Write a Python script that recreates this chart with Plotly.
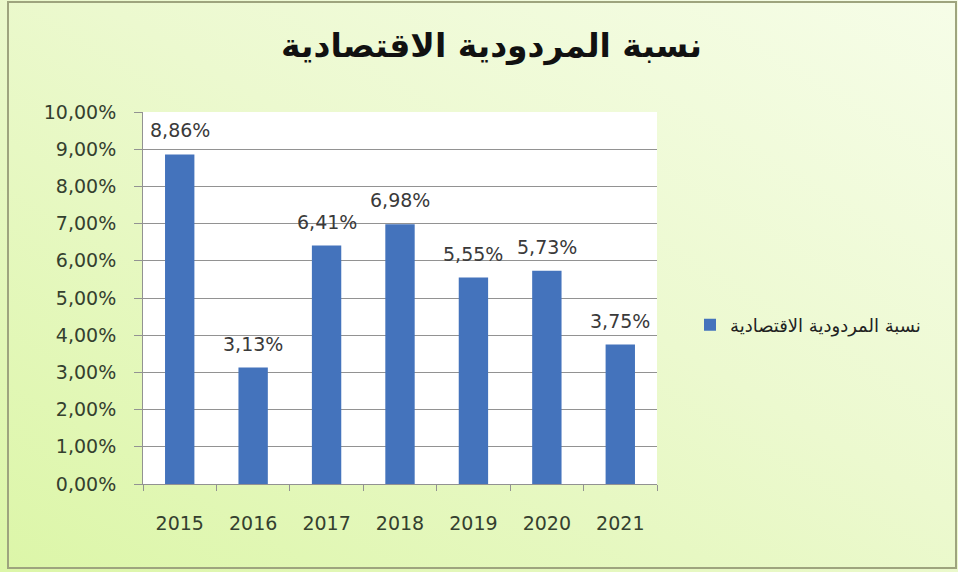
import base64
import plotly.graph_objects as go

years = ["2015", "2016", "2017", "2018", "2019", "2020", "2021"]
values = [0.0886, 0.0313, 0.0641, 0.0698, 0.0555, 0.0573, 0.0375]
series_name = "نسبة المردودية الاقتصادية"
title_text = "نسبة المردودية الاقتصادية"

W, H = 958, 572
L, R, T, B = 143, 657, 112, 484  # plot area in px

def px_x(px):
    return (px - L) / (R - L)

def px_y(py):
    return (B - py) / (B - T)

svg = (
    '<svg xmlns="http://www.w3.org/2000/svg" width="958" height="572">'
    '<defs><linearGradient id="g" x1="1" y1="0" x2="0" y2="1">'
    '<stop offset="0" stop-color="#f6fde8"/>'
    '<stop offset="0.45" stop-color="#ecf9cf"/>'
    '<stop offset="1" stop-color="#dcf6a8"/>'
    '</linearGradient></defs>'
    '<rect width="958" height="572" fill="url(#g)"/></svg>'
)
src = "data:image/svg+xml;base64," + base64.b64encode(svg.encode()).decode()

fig = go.Figure()
fig.add_trace(go.Bar(
    x=years, y=values, name=series_name,
    marker=dict(color="#4473bc", line=dict(width=0)),
    showlegend=True,
))

for i, v in enumerate(values):
    fig.add_annotation(
        x=i, y=v, text=f"{v*100:.2f}%".replace(".", ","),
        showarrow=False, yanchor="bottom", yshift=11,
        font=dict(family="DejaVu Sans", size=19, color="#3a3a3a"),
    )

fig.add_layout_image(
    source=src, xref="paper", yref="paper",
    x=px_x(0), y=px_y(0), sizex=W / (R - L), sizey=H / (B - T),
    xanchor="left", yanchor="top", sizing="stretch", layer="below",
)
# white plot area
fig.add_shape(type="rect", xref="paper", yref="paper", x0=0, x1=1, y0=0, y1=1,
              fillcolor="white", line=dict(width=0), layer="below")
# outer frame
fig.add_shape(type="rect", xref="paper", yref="paper",
              x0=px_x(8), x1=px_x(956), y0=px_y(568), y1=px_y(2),
              fillcolor="rgba(0,0,0,0)", line=dict(color="#9ea47e", width=2),
              layer="above")

fig.update_layout(
    width=W, height=H,
    margin=dict(l=L, r=W - R, t=T, b=H - B, autoexpand=False),
    paper_bgcolor="#ecf9cf",
    plot_bgcolor="white",
    separators=", ",
    bargap=0.6,
    title=dict(text=title_text, x=0.513, xanchor="center", y=1 - 45 / H,
               yanchor="middle", yref="container",
               font=dict(family="DejaVu Sans", size=33, color="#111111", weight="bold")),
    legend=dict(x=px_x(690), y=px_y(325), xanchor="left", yanchor="middle",
                bgcolor="rgba(0,0,0,0)", itemwidth=30,
                font=dict(family="DejaVu Sans", size=18, color="#222222")),
    font=dict(family="DejaVu Sans", color="#333333"),
)
fig.update_yaxes(
    range=[0, 0.10], dtick=0.01, tickformat=".2%",
    showgrid=True, gridcolor="#929292", gridwidth=1,
    showline=True, linecolor="#929292", linewidth=1,
    ticks="outside", ticklen=8, tickcolor="#929292",
    tickfont=dict(family="DejaVu Sans", size=19, color="#34402f"),
    ticklabelstandoff=14, zeroline=False,
)
fig.update_xaxes(
    type="category", range=[-0.5, len(years) - 0.5],
    showline=True, linecolor="#929292", linewidth=1,
    ticks="outside", ticklen=6, tickcolor="#929292", tickson="boundaries",
    tickfont=dict(family="DejaVu Sans", size=19, color="#34402f"),
    ticklabelstandoff=22,
)

fig.write_html(
    "out.html",
    config={"displayModeBar": False},
    post_script="document.body.style.margin='0';document.body.style.overflow='hidden';",
)
